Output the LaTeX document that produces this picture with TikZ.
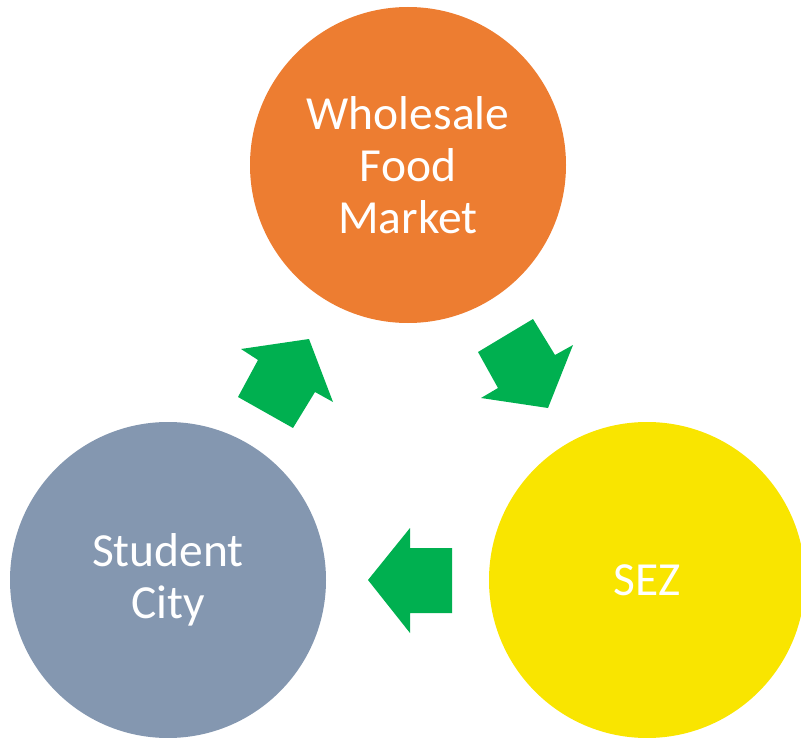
\documentclass[tikz,border=0pt]{standalone}
\usepackage{fontspec}
\setmainfont{Carlito}
\definecolor{orangeC}{HTML}{ED7D31}
\definecolor{blueC}{HTML}{8497B0}
\definecolor{yellowC}{HTML}{F9E500}
\definecolor{greenC}{HTML}{00B050}
\tikzset{
  bubble/.style={circle, minimum size=316pt, inner sep=0pt, text=white, align=center,
    font=\fontsize{47.5}{52}\selectfont},
  blockarrow/.style={fill=greenC, draw=none}
}
\begin{document}
\begin{tikzpicture}[x=1pt,y=-1pt]
\useasboundingbox (0,0) rectangle (801,738);
\node[bubble, fill=orangeC] (wfm) at (408,165) {Wholesale\\Food\\Market};
\node[bubble, fill=blueC] (sc) at (168,580) {Student\\City};
\node[bubble, fill=yellowC] (sez) at (647,580) {SEZ};
% SEZ -> Student City
\fill[blockarrow] (452,548) -- (410,548) -- (410,528) -- (368,580) -- (410,633) -- (410,613) -- (452,613) -- cycle;
% Student City -> Wholesale
\fill[blockarrow] (293,428) -- (315,392) -- (333,402) -- (309,339) -- (241,349) -- (258,360) -- (238,397) -- cycle;
% Wholesale -> SEZ
\fill[blockarrow] (533,319) -- (478,352) -- (498,388) -- (481,398) -- (548,408) -- (573,345) -- (555,355) -- cycle;
\end{tikzpicture}
\end{document}
